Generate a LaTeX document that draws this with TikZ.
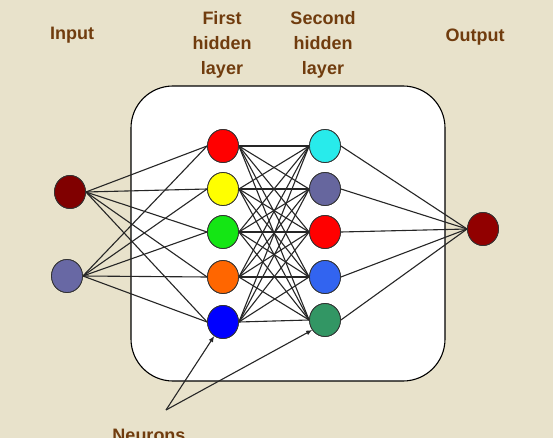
\documentclass[tikz,border=0pt]{standalone}
\usepackage{fontspec}
\setmainfont{Liberation Sans}
\usetikzlibrary{shapes.geometric,arrows.meta}

\definecolor{paper}{RGB}{232,226,203}
\definecolor{labelbrown}{RGB}{112,60,14}
\definecolor{inA}{RGB}{128,0,0}
\definecolor{inB}{RGB}{104,104,164}
\definecolor{hRed}{RGB}{255,0,0}
\definecolor{hYellow}{RGB}{255,255,0}
\definecolor{hGreen}{RGB}{20,230,20}
\definecolor{hOrange}{RGB}{255,102,0}
\definecolor{hBlue}{RGB}{0,0,255}
\definecolor{sCyan}{RGB}{40,235,235}
\definecolor{sSlate}{RGB}{102,102,158}
\definecolor{sRed}{RGB}{255,0,0}
\definecolor{sBlue}{RGB}{50,100,240}
\definecolor{sGreen}{RGB}{50,150,100}
\definecolor{outRed}{RGB}{145,0,0}

\tikzset{
  neuron/.style={ellipse, draw=black!80, line width=0.8pt, minimum width=31pt, minimum height=33pt, inner sep=0pt, fill=#1},
  link/.style={draw=black!85, line width=1.1pt},
  title/.style={font=\fontsize{18}{25}\selectfont\bfseries, text=labelbrown, align=center},
  pointer/.style={draw=black!85, line width=1.1pt, -{Latex[length=6pt,width=5pt]}}
}

\begin{document}
\begin{tikzpicture}[x=1pt,y=-1pt]
  \useasboundingbox (0,0) rectangle (553,438);
  \clip (0,0) rectangle (553,438);
  \fill[paper] (0,0) rectangle (553,438);

  % white panel behind the hidden layers
  \draw[fill=white, line width=1.1pt, rounded corners=42pt] (131,86) rectangle (445,381);

  % layer titles
  \node[title] (tIn)  at (72,35) {Input};
  \node[title] (tH1)  at (222,45) {First\\hidden\\layer};
  \node[title] (tH2)  at (323,45) {Second\\hidden\\layer};
  \node[title] (tOut) at (475,37) {Output};
  \node[title, anchor=base] (tNeu) at (149,441) {Neurons};

  % input layer
  \node[neuron=inA] (i1) at (70,192) {};
  \node[neuron=inB] (i2) at (67,276) {};

  % first hidden layer
  \node[neuron=hRed]    (a1) at (223,146) {};
  \node[neuron=hYellow] (a2) at (223,189) {};
  \node[neuron=hGreen]  (a3) at (223,232) {};
  \node[neuron=hOrange] (a4) at (223,277) {};
  \node[neuron=hBlue]   (a5) at (223,322) {};

  % second hidden layer
  \node[neuron=sCyan]  (b1) at (325,146) {};
  \node[neuron=sSlate] (b2) at (325,189) {};
  \node[neuron=sRed]   (b3) at (325,232) {};
  \node[neuron=sBlue]  (b4) at (325,277) {};
  \node[neuron=sGreen] (b5) at (325,320) {};

  % output layer
  \node[neuron=outRed] (o1) at (483,229) {};

  % connections
  \foreach \s in {i1,i2}
    \foreach \t in {a1,a2,a3,a4,a5}
      \draw[link] (\s.east) -- (\t.west);
  \foreach \s in {a1,a2,a3,a4,a5}
    \foreach \t in {b1,b2,b3,b4,b5}
      \draw[link] (\s.east) -- (\t.west);
  \foreach \s in {b1,b2,b3,b4,b5}
    \draw[link] (\s.east) -- (o1.west);

  % redraw neurons on top of the links
  \foreach \n/\c in {i1/inA,i2/inB,a1/hRed,a2/hYellow,a3/hGreen,a4/hOrange,a5/hBlue,b1/sCyan,b2/sSlate,b3/sRed,b4/sBlue,b5/sGreen,o1/outRed}
    \draw[fill=\c, draw=black!80, line width=0.8pt] (\n.center) ellipse [x radius=15.5pt, y radius=16.5pt];

  % pointers to two example neurons
  \coordinate (p) at (166,410);
  \draw[pointer] (p) -- (a5.238);
  \draw[pointer] (p) -- (b5.218);
\end{tikzpicture}
\end{document}
